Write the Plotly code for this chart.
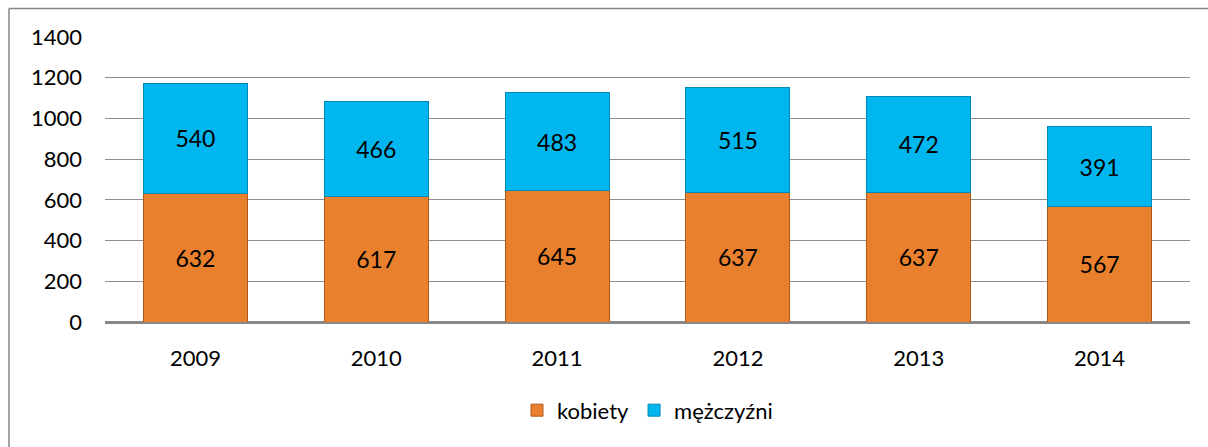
import plotly.graph_objects as go

years = ["2009", "2010", "2011", "2012", "2013", "2014"]
kobiety = [632, 617, 645, 637, 637, 567]
mezczyzni = [540, 466, 483, 515, 472, 391]
y_ticks = [0, 200, 400, 600, 800, 1000, 1200, 1400]

FONT = "Lato"
W, H = 1208, 447
ML, MR, MT, MB = 105, 18, 37, 125
PW = W - ML - MR
PH = H - MT - MB

fig = go.Figure()
fig.add_trace(go.Bar(
    x=years, y=kobiety, name="kobiety",
    marker=dict(color="#E8802E", line=dict(color="#B0581A", width=1)),
    text=[str(v) for v in kobiety], textposition="inside",
    insidetextanchor="middle", textfont=dict(family=FONT, size=23, color="#000000"),
))
fig.add_trace(go.Bar(
    x=years, y=mezczyzni, name="mężczyźni",
    marker=dict(color="#00B6EE", line=dict(color="#0088B8", width=1)),
    text=[str(v) for v in mezczyzni], textposition="inside",
    insidetextanchor="middle", textfont=dict(family=FONT, size=23, color="#000000"),
))

left_x = (9 - ML) / PW
right_x = (W - ML) / PW
top_y = (PH + MT - 8.5) / PH
bottom_y = -MB / PH

fig.update_layout(
    barmode="stack",
    bargap=0.425,
    width=W, height=H,
    margin=dict(l=ML, r=MR, t=MT, b=MB),
    paper_bgcolor="white", plot_bgcolor="white",
    font=dict(family=FONT, size=22, color="#000000"),
    showlegend=True,
    legend=dict(orientation="h", x=0.5, xanchor="center", y=-0.31, yanchor="middle",
                font=dict(family=FONT, size=22), itemwidth=30, traceorder="normal"),
    uniformtext=dict(mode="show", minsize=10),
    xaxis=dict(showgrid=False, showline=True, linecolor="#888888", linewidth=1.5,
               ticks="", ticklabelstandoff=16, tickfont=dict(family=FONT, size=22)),
    yaxis=dict(range=[0, 1400], tickvals=y_ticks, showgrid=True, gridcolor="#8C8C8C",
               gridwidth=1.2, zeroline=True, zerolinecolor="#888888", zerolinewidth=1.5,
               showline=False, ticks="", ticklabelstandoff=22,
               tickfont=dict(family=FONT, size=22)),
    shapes=[
        dict(type="line", xref="paper", yref="paper", x0=left_x, x1=left_x,
             y0=bottom_y, y1=top_y, line=dict(color="#868686", width=1.5)),
        dict(type="line", xref="paper", yref="paper", x0=left_x, x1=right_x,
             y0=top_y, y1=top_y, line=dict(color="#868686", width=1.5)),
    ],
)

fig.write_html(
    "out.html",
    config={"displayModeBar": False},
    post_script=("document.documentElement.style.overflow='hidden';"
                 "document.body.style.margin='0';document.body.style.overflow='hidden';"),
)
